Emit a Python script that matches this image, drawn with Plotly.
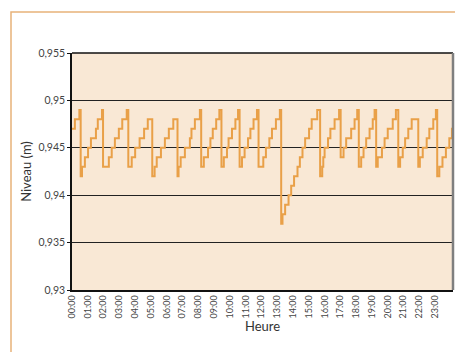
import plotly.graph_objects as go

# Change points of the level record (minutes since 00:00) and level (m), step-wise
minutes = [0, 11, 28, 33, 38, 49, 61, 72, 91, 98, 114,
           118, 140, 151, 163, 178, 191, 208,
           214, 227, 240, 257, 274, 288,
           305, 314, 322, 338, 353, 368, 385,
           401, 405, 413, 429, 448, 454, 467, 486,
           491, 501, 517, 526, 535, 548, 560,
           568, 577, 589, 595, 608, 621, 631,
           637, 646, 656, 669, 678, 690, 703,
           709, 727, 737, 750, 760, 775, 790,
           795, 800, 810, 823, 833, 844, 857, 866, 876, 886, 901, 911, 932,
           943, 951, 955, 960, 973, 982, 998, 1015,
           1021, 1032, 1042, 1061, 1074, 1084,
           1090, 1099, 1108, 1118, 1131, 1143, 1150,
           1156, 1162, 1178, 1188, 1200, 1219, 1231,
           1240, 1247, 1257, 1266, 1278, 1291,
           1316, 1322, 1333, 1348, 1358, 1373, 1383,
           1388, 1396, 1408, 1421, 1434, 1444, 1448]
niveau = [0.947, 0.948, 0.949, 0.942, 0.943, 0.944, 0.945, 0.946, 0.947, 0.948, 0.949,
          0.943, 0.944, 0.945, 0.946, 0.947, 0.948, 0.949,
          0.943, 0.944, 0.945, 0.946, 0.947, 0.948,
          0.942, 0.943, 0.944, 0.945, 0.946, 0.947, 0.948,
          0.942, 0.943, 0.944, 0.945, 0.946, 0.947, 0.948, 0.949,
          0.943, 0.944, 0.945, 0.946, 0.947, 0.948, 0.949,
          0.943, 0.944, 0.945, 0.946, 0.947, 0.948, 0.949,
          0.943, 0.944, 0.945, 0.946, 0.947, 0.948, 0.949,
          0.943, 0.944, 0.945, 0.946, 0.947, 0.948, 0.949,
          0.937, 0.938, 0.939, 0.940, 0.941, 0.942, 0.943, 0.944, 0.945, 0.946, 0.947, 0.948, 0.949,
          0.942, 0.943, 0.944, 0.945, 0.946, 0.947, 0.948, 0.949,
          0.944, 0.945, 0.946, 0.947, 0.948, 0.949,
          0.943, 0.944, 0.945, 0.946, 0.947, 0.948, 0.949,
          0.943, 0.944, 0.945, 0.946, 0.947, 0.948, 0.949,
          0.943, 0.944, 0.945, 0.946, 0.947, 0.948,
          0.943, 0.944, 0.945, 0.946, 0.947, 0.948, 0.949,
          0.942, 0.943, 0.944, 0.945, 0.946, 0.947, 0.947]

hour_ticks = [h * 60 for h in range(24)]
hour_labels = ["%02d:00" % h for h in range(24)]
y_ticks = [0.93, 0.935, 0.94, 0.945, 0.95, 0.955]
y_labels = ["0,93", "0,935", "0,94", "0,945", "0,95", "0,955"]

fig = go.Figure()
fig.add_trace(go.Scatter(
    x=minutes, y=niveau, mode="lines", line_shape="hv",
    line=dict(color="#E9A048", width=2), showlegend=False, hoverinfo="skip"))

font_family = "Lato, 'Open Sans', sans-serif"
fig.update_layout(
    width=455, height=344,
    margin=dict(l=64, r=10, t=45, b=62, autoexpand=False),
    paper_bgcolor="white", plot_bgcolor="#F9E8D5",
    font=dict(family=font_family, color="#333333"),
    xaxis=dict(range=[0, 1448], tickvals=hour_ticks, ticktext=hour_labels,
               tickangle=-90, tickfont=dict(size=9, color="#444444"),
               showgrid=False, zeroline=False, automargin=False,
               showline=True, linecolor="#111111", linewidth=1.5,
               ticks="", title=dict(text="Heure", font=dict(size=13, color="#333333"), standoff=2)),
    yaxis=dict(range=[0.93, 0.955], tickvals=y_ticks, ticktext=y_labels,
               tickfont=dict(size=10.5, color="#444444"), automargin=False,
               showgrid=True, gridcolor="#222222", gridwidth=1, zeroline=False,
               showline=True, linecolor="#111111", linewidth=1.5,
               ticks="outside", ticklen=3, tickcolor="#111111",
               title=dict(text="Niveau (m)", font=dict(size=13, color="#333333"), standoff=4)),
    shapes=[
        dict(type="line", xref="paper", yref="paper", x0=0, x1=1, y0=1, y1=1,
             line=dict(color="#111111", width=1.5)),
        dict(type="line", xref="paper", yref="paper", x0=1, x1=1, y0=0, y1=1,
             line=dict(color="#7F7F7F", width=2.5)),
        dict(type="rect", xref="paper", yref="paper",
             x0=(11 - 72) / 381, x1=1.2, y0=-0.6, y1=1 + (53 - 12) / 237,
             line=dict(color="#E8B27A", width=1.5), layer="below"),
    ],
)

fig.write_html("out.html")
